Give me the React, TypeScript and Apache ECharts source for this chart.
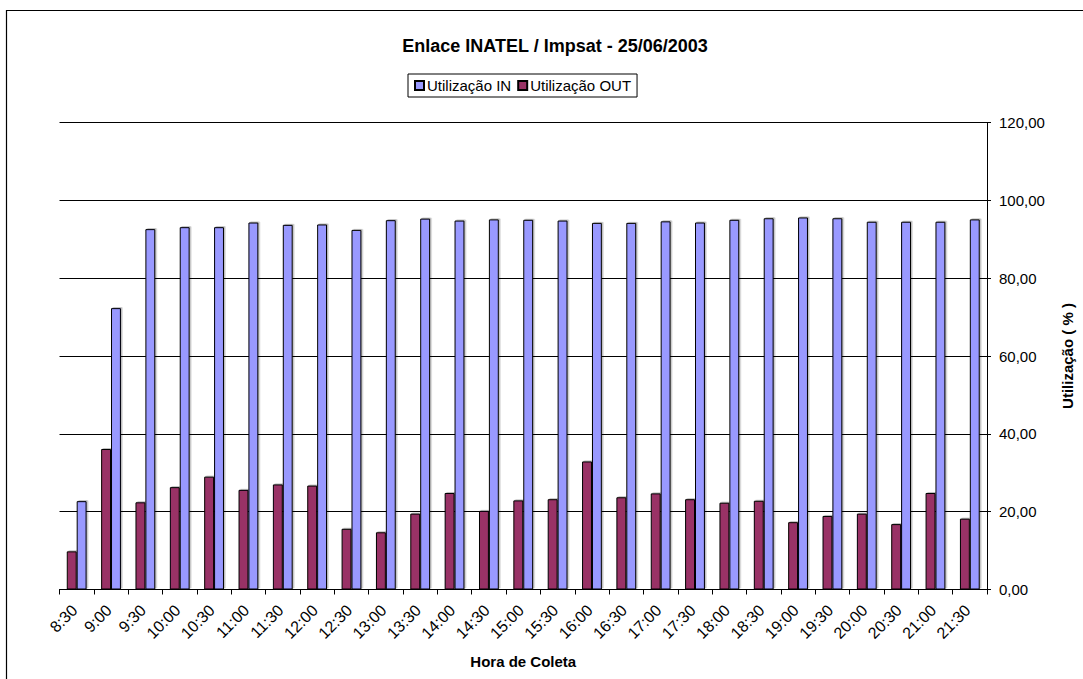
import React, { useEffect, useRef } from "react";
import * as echarts from "echarts";

const categories = [
  "8:30", "9:00", "9:30", "10:00", "10:30", "11:00", "11:30", "12:00", "12:30",
  "13:00", "13:30", "14:00", "14:30", "15:00", "15:30", "16:00", "16:30", "17:00",
  "17:30", "18:00", "18:30", "19:00", "19:30", "20:00", "20:30", "21:00", "21:30",
];

const utilIn = [
  22.7, 72.3, 92.6, 93.1, 93.1, 94.3, 93.7, 93.8, 92.4,
  94.9, 95.3, 94.8, 95.1, 95.0, 94.8, 94.2, 94.2, 94.6,
  94.3, 95.0, 95.4, 95.6, 95.4, 94.5, 94.5, 94.5, 95.1,
];

const utilOut = [
  9.8, 36.1, 22.4, 26.3, 29.0, 25.6, 27.0, 26.7, 15.6,
  14.7, 19.5, 24.8, 20.2, 22.9, 23.2, 32.9, 23.7, 24.7,
  23.2, 22.3, 22.8, 17.3, 18.9, 19.5, 16.8, 24.8, 18.2,
];

const yTicks = { min: 0, max: 120, interval: 20 };

const FONT = "'Liberation Sans', Arial, sans-serif";

export default function App() {
  const ref = useRef<HTMLDivElement>(null);
  useEffect(() => {
    if (!ref.current) return;
    const chart = echarts.init(ref.current, null, { renderer: "svg" });
    chart.setOption({
      animation: false,
      backgroundColor: "#ffffff",
      textStyle: { fontFamily: FONT, color: "#000" },
      title: {
        text: "Enlace INATEL / Impsat - 25/06/2003",
        left: 550,
        top: 32,
        textAlign: "center",
        textStyle: { fontFamily: FONT, fontSize: 18, fontWeight: "bold", color: "#000" },
      },
      legend: {
        data: ["Utilização IN", "Utilização OUT"],
        left: 408,
        top: 74,
        orient: "horizontal",
        padding: [4, 6, 4, 6],
        borderColor: "#000",
        borderWidth: 1,
        borderRadius: 0,
        itemGap: 6,
        itemWidth: 9,
        itemHeight: 9,
        icon: "rect",
        textStyle: { fontFamily: FONT, fontSize: 15, color: "#000", padding: [0, 0, 0, -2] },
      },
      graphic: [
        {
          type: "rect",
          shape: { x: 6.5, y: 10.5, width: 1200, height: 800 },
          style: { fill: "none", stroke: "#000", lineWidth: 1.2 },
          silent: true,
        },
      ],
      grid: { left: 59.5, top: 122.5, width: 935.5, height: 467, containLabel: false },
      xAxis: {
        type: "category",
        data: categories,
        name: "Hora de Coleta",
        nameLocation: "middle",
        nameGap: 64,
        nameTextStyle: { fontFamily: FONT, fontSize: 15, fontWeight: "bold", color: "#000" },
        axisLine: { show: true, lineStyle: { color: "#000", width: 1 } },
        axisTick: { show: true, length: 5, lineStyle: { color: "#000" } },
        axisLabel: {
          rotate: 45,
          margin: 16,
          interval: 0,
          fontFamily: FONT,
          fontSize: 16,
          color: "#000",
          padding: [0, 3, 0, 0],
        },
        splitLine: { show: false },
      },
      yAxis: {
        type: "value",
        position: "right",
        min: yTicks.min,
        max: yTicks.max,
        interval: yTicks.interval,
        name: "Utilização ( % )",
        nameLocation: "middle",
        nameGap: 73,
        nameRotate: 90,
        nameTextStyle: { fontFamily: FONT, fontSize: 15, fontWeight: "bold", color: "#000" },
        axisLine: { show: true, lineStyle: { color: "#000", width: 1 } },
        axisTick: { show: true, length: 4, lineStyle: { color: "#000" } },
        axisLabel: {
          margin: 12,
          fontFamily: FONT,
          fontSize: 15,
          color: "#000",
          formatter: (v: number) => v.toFixed(2).replace(".", ","),
        },
        splitLine: { show: true, lineStyle: { color: "#000", width: 1 } },
      },
      series: [
        {
          name: "Utilização OUT",
          type: "bar",
          data: utilOut,
          barWidth: 9.9,
          barGap: "0%",
          itemStyle: {
            color: "#993366",
            borderColor: "#000",
            borderWidth: 1,
            shadowColor: "rgba(0,0,0,0.25)",
            shadowOffsetX: 1.5,
            shadowOffsetY: -1,
            shadowBlur: 0,
          },
        },
        {
          name: "Utilização IN",
          type: "bar",
          data: utilIn,
          barWidth: 9.9,
          barGap: "0%",
          itemStyle: {
            color: "#9999FF",
            borderColor: "#000",
            borderWidth: 1,
            shadowColor: "rgba(0,0,0,0.25)",
            shadowOffsetX: 1.5,
            shadowOffsetY: -1,
            shadowBlur: 0,
          },
        },
      ],
    });
    return () => chart.dispose();
  }, []);
  return (
    <div
      ref={ref}
      style={{ position: "fixed", left: 0, top: 0, width: 1083, height: 679 }}
    />
  );
}
